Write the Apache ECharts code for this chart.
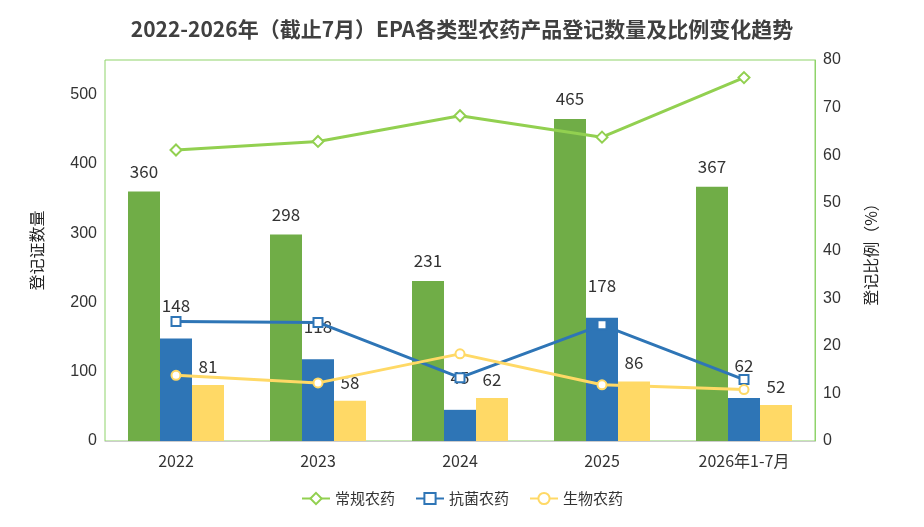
<!DOCTYPE html><html><head><meta charset="utf-8"><script src="https://cdn.jsdelivr.net/npm/echarts@6/dist/echarts.min.js"></script></head><body style="margin:0"><div id="c" style="width:924px;height:527px"></div><script>
const categories=['2022','2023','2024','2025','2026年1-7月'];
const conv=[360,298,231,465,367];
const anti=[148,118,45,178,62];
const bio=[81,58,62,86,52];
const convPct=[61.1,62.9,68.3,63.8,76.3];
const antiPct=[25.1,24.9,13.3,24.4,12.9];
const bioPct=[13.8,12.2,18.3,11.8,10.8];
const f='"Noto Sans CJK SC","Noto Sans",sans-serif';
const lab={show:true,position:'top',fontSize:17,color:'#333',fontFamily:f};
const ch=echarts.init(document.getElementById('c'));
ch.setOption({
title:{text:'2022-2026年（截止7月）EPA各类型农药产品登记数量及比例变化趋势',left:'center',top:14,textStyle:{fontSize:21,fontWeight:'bold',color:'#404040',fontFamily:f}},
legend:{bottom:16,itemGap:20,itemWidth:28,textStyle:{fontSize:15,color:'#333',fontFamily:f},data:['常规农药','抗菌农药','生物农药']},
grid:{left:105,right:109,top:60,bottom:86,show:true,borderColor:'#8fd36a',borderWidth:1},
xAxis:{type:'category',data:categories,axisLine:{lineStyle:{color:'#ccc'}},axisTick:{show:false},axisLabel:{fontSize:16,color:'#333',fontFamily:f,margin:12}},
yAxis:[{type:'value',min:0,max:550,interval:100,name:'登记证数量',nameLocation:'middle',nameGap:60,nameTextStyle:{fontSize:16,color:'#222',fontFamily:f},splitLine:{show:false},axisLabel:{fontSize:16,color:'#333',formatter:v=>v>500?'':v}},
{type:'value',min:0,max:80,interval:10,name:'登记比例（%）',nameLocation:'middle',nameGap:48,nameRotate:90,nameTextStyle:{fontSize:16,color:'#222',fontFamily:f},splitLine:{show:false},axisLine:{show:true,lineStyle:{color:'#8fd36a'}},axisLabel:{fontSize:16,color:'#333'}}],
series:[
{name:'常规bar',type:'bar',data:conv,barWidth:32,barGap:'0%',itemStyle:{color:'#70ad47'},label:Object.assign({distance:12},lab)},
{name:'抗菌bar',type:'bar',data:anti,barWidth:32,itemStyle:{color:'#2e75b6'},label:Object.assign({distance:24},lab)},
{name:'生物bar',type:'bar',data:bio,barWidth:32,itemStyle:{color:'#ffd966'},label:Object.assign({distance:10},lab)},
{name:'常规农药',type:'line',yAxisIndex:1,data:convPct,symbol:'diamond',symbolSize:11,lineStyle:{color:'#92d050',width:3},itemStyle:{color:'#fff',borderColor:'#92d050',borderWidth:2}},
{name:'抗菌农药',type:'line',yAxisIndex:1,data:antiPct,symbol:'rect',symbolSize:9,lineStyle:{color:'#2e75b6',width:3},itemStyle:{color:'#fff',borderColor:'#2e75b6',borderWidth:2}},
{name:'生物农药',type:'line',yAxisIndex:1,data:bioPct,symbol:'circle',symbolSize:9,lineStyle:{color:'#ffd966',width:3},itemStyle:{color:'#fff',borderColor:'#ffd966',borderWidth:2}}
]});
</script></body></html>
